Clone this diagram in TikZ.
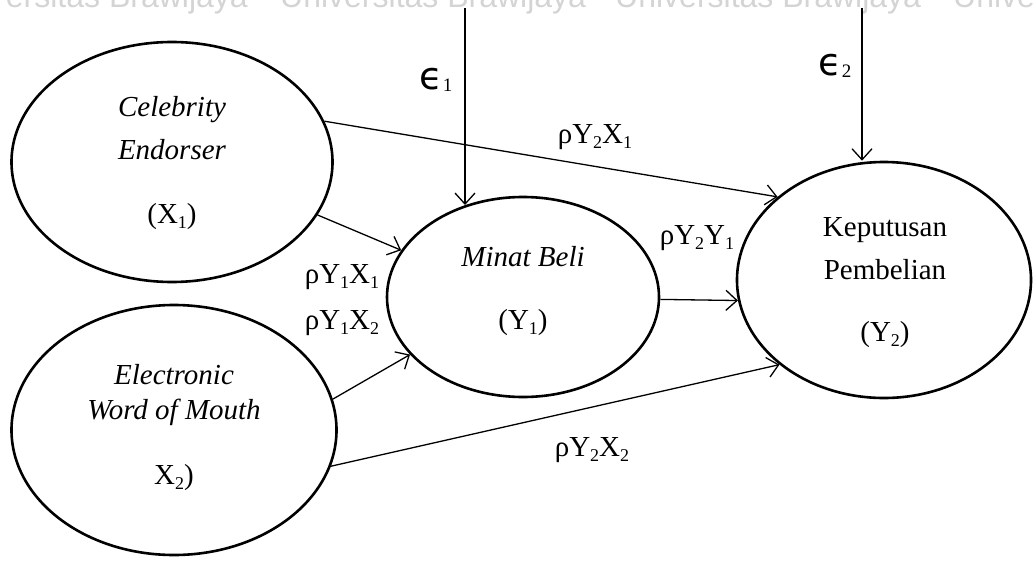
\documentclass[tikz,border=0pt]{standalone}
\usepackage{fontspec}
\setmainfont{Liberation Serif}
\newfontfamily\wmfont{Liberation Sans}
\newfontfamily\epsfont{DejaVu Sans}
\usetikzlibrary{shapes.geometric,arrows.meta}
\newcommand\sbs[1]{\raisebox{-5pt}{\fontsize{18}{18}\selectfont #1}}
\newcommand\esbs[1]{\raisebox{-2pt}{\fontsize{19}{19}\selectfont #1}}
\tikzset{
 ell/.style={draw, ellipse, line width=2.6pt, inner sep=0pt},
 lbl/.style={font=\fontsize{29}{34}\selectfont, inner sep=0pt},
 itl/.style={font=\fontsize{29}{34}\selectfont\itshape, inner sep=0pt},
 epsl/.style={font=\fontsize{38}{40}\selectfont, inner sep=0pt},
 conn/.style={line width=1.3pt, -{Straight Barb[length=11pt,width=20pt,line width=1.3pt]}},
 wm/.style={font=\wmfont\fontsize{32}{36}\selectfont, text=black!17, inner sep=0pt}
}
\begin{document}
\begin{tikzpicture}[x=1pt,y=-1pt]
\useasboundingbox (0,0) rectangle (1033,562);
\clip (0,0) rectangle (1033,562);
% watermark
\node[wm, anchor=base east] (w0) at (248,7) {ersitas Brawijaya};
\node[wm, anchor=base west] (w1) at (280,7) {Universitas Brawijaya};
\node[wm, anchor=base west] (w2) at (615,7) {Universitas Brawijaya};
\node[wm, anchor=base west] (w3) at (953,7) {Universitas};
% ellipses
\node[ell, minimum width=321pt, minimum height=240pt] (x1) at (172,162) {};
\node[ell, minimum width=325pt, minimum height=250pt] (x2) at (174,430) {};
\node[ell, minimum width=272pt, minimum height=200pt] (y1) at (523,297) {};
\node[ell, minimum width=294pt, minimum height=236pt] (y2) at (884,280) {};
% texts
\node[itl] (t1a) at (172,110) {Celebrity};
\node[itl] (t1b) at (172,150) {Endorser};
\node[lbl] (t1c) at (172,217) {(X\sbs{1})};
\node[itl] (t2a) at (174,375) {Electronic};
\node[itl] (t2b) at (174,412) {Word of Mouth};
\node[lbl] (t2c) at (174,478) {X\sbs{2})};
\node[itl] (t3a) at (523,257) {Minat Beli};
\node[lbl] (t3b) at (523,323) {(Y\sbs{1})};
\node[lbl] (t4a) at (885,230) {Keputusan};
\node[lbl] (t4b) at (885,270) {Pembelian};
\node[lbl] (t4c) at (885,335) {(Y\sbs{2})};
% path labels
\node[lbl] (l1) at (595,137) {ρY\sbs{2}X\sbs{1}};
\node[lbl] (l2) at (342,277) {ρY\sbs{1}X\sbs{1}};
\node[lbl] (l3) at (342,323) {ρY\sbs{1}X\sbs{2}};
\node[lbl] (l4) at (697,238) {ρY\sbs{2}Y\sbs{1}};
\node[lbl] (l5) at (592,450) {ρY\sbs{2}X\sbs{2}};
\node[epsl] (ep1) at (436,80) {{\epsfont ϵ}\esbs{1}};
\node[epsl] (ep2) at (835,66) {{\epsfont ϵ}\esbs{2}};
% connectors
\coordinate (e1) at (465,8);
\coordinate (e2) at (862,8);
\draw[conn] (e1) -- (e1 |- y1.122);
\draw[conn] (e2) -- (e2 |- y2.north);
\draw[conn] (x1.15) -- (y2.142);
\draw[conn] (x1.-20) -- (y1.159);
\draw[conn] (x2.11) -- (y1.207);
\draw[conn] (x2.-13) -- (y2.219);
\draw[conn] (y1.-1) -- (y2.188);
\end{tikzpicture}
\end{document}
